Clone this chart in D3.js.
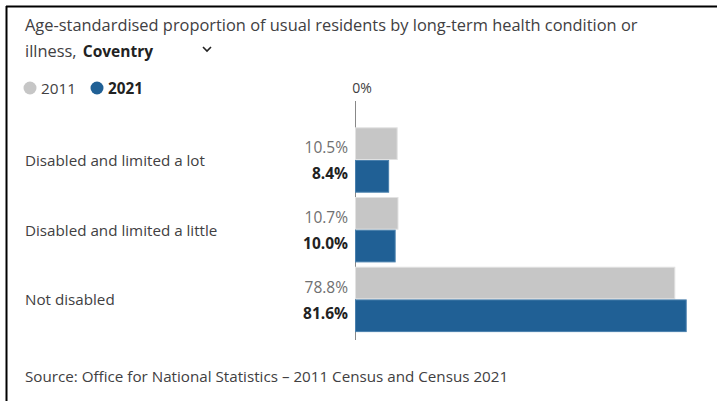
<!DOCTYPE html>
<html><head><meta charset="utf-8">
<script src="https://cdn.jsdelivr.net/npm/d3@7"></script>
<style>
html,body{margin:0;padding:0;background:#fff;}
svg{display:block;font-family:"Open Sans",sans-serif;}
</style></head>
<body><svg id="c" width="717" height="401"></svg>
<script>
const categories = ["Disabled and limited a lot","Disabled and limited a little","Not disabled"];
const series = ["2011","2021"];
const values2011 = [10.5, 10.7, 78.8];
const values2021 = [8.4, 10.0, 81.6];
const colors = ["#c6c6c6","#206095"];
const strokes = ["#e2e2e2","#4a80ad"];

const svg = d3.select("#c");
const ink = "#414042";

// frame
svg.append("line").attr("x1",6).attr("x2",717).attr("y1",6.5).attr("y2",6.5).attr("stroke","#000").attr("stroke-width",2);
svg.append("line").attr("x1",6.5).attr("x2",6.5).attr("y1",6).attr("y2",401).attr("stroke","#000").attr("stroke-width",2);

// title
svg.append("text").attr("x",25).attr("y",31).attr("fill",ink).attr("font-size",16.4)
  .text("Age-standardised proportion of usual residents by long-term health condition or");
const t2 = svg.append("text").attr("x",25).attr("y",57).attr("fill",ink).attr("font-size",16.4);
t2.append("tspan").text("illness, ");
t2.append("tspan").attr("dx",2).attr("font-weight","bold").attr("fill","#222").attr("font-size",15.5).text("Coventry");
// chevron
svg.append("path").attr("d","M203,47 l4,4 l4,-4").attr("fill","none").attr("stroke","#222").attr("stroke-width",1.6);

// legend
const leg = svg.append("g");
const legX = [30, 97];
series.forEach((s,i)=>{
  leg.append("circle").attr("cx",legX[i]).attr("cy",88).attr("r",6.5).attr("fill",colors[i]);
  leg.append("text").attr("x",legX[i]+11).attr("y",94).attr("font-size",15.3)
    .attr("fill", i? "#222": ink).attr("font-weight", i? "bold":"normal").text(s);
});

// scales
const x = d3.scaleLinear().domain([0, 100]).range([355, 355+406.5]);
const y0 = d3.scaleBand().domain(categories).range([127.3, 332.1]).paddingInner(0.062).paddingOuter(0);
const y1 = d3.scaleBand().domain(series).range([0, y0.bandwidth()]);

// axis
svg.append("line").attr("x1",x(0)+0.5).attr("x2",x(0)+0.5).attr("y1",101).attr("y2",340).attr("stroke","#888").attr("stroke-width",1);
svg.append("text").attr("x",x(0)+7).attr("y",93).attr("text-anchor","middle").attr("font-size",14).attr("fill",ink).text("0%");

const data = categories.map((c,i)=>({c, vals:[values2011[i], values2021[i]]}));
const g = svg.append("g");
const labelShift = [9.7, 3];
data.forEach(d=>{
  const gy = y0(d.c);
  svg.append("text").attr("x",25).attr("y",gy+y0.bandwidth()/2+6).attr("font-size",15.2).attr("fill",ink).text(d.c);
  d.vals.forEach((v,j)=>{
    const by = gy + y1(series[j]);
    g.append("rect").attr("x",x(0)+0.5).attr("y",by+0.5).attr("width",x(v)-x(0)-1).attr("height",y1.bandwidth()-1)
      .attr("fill",colors[j]).attr("stroke",strokes[j]).attr("stroke-width",1);
    g.append("text").attr("x",348).attr("y",by+y1.bandwidth()/2+labelShift[j]).attr("text-anchor","end")
      .attr("font-size",15.5).attr("font-weight", j? "bold":"normal").attr("fill", j? "#222":"#707071")
      .text(d3.format(".1f")(v)+"%");
  });
});

svg.append("text").attr("x",25).attr("y",382).attr("font-size",15.2).attr("fill",ink)
  .text("Source: Office for National Statistics – 2011 Census and Census 2021");
</script></body></html>
